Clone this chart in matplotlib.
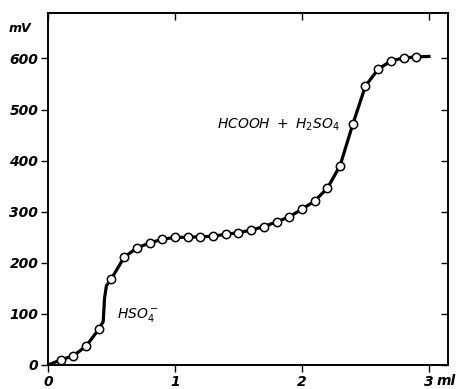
import matplotlib.pyplot as plt

# titration points (ml, mV)
volume_ml = [0.1, 0.2, 0.3, 0.4, 0.5, 0.6, 0.7, 0.8, 0.9, 1.0,
             1.1, 1.2, 1.3, 1.4, 1.5, 1.6, 1.7, 1.8, 1.9, 2.0,
             2.1, 2.2, 2.3, 2.4, 2.5, 2.6, 2.7, 2.8, 2.9]
potential_mv = [10, 18, 37, 70, 169, 211, 229, 239, 246, 250,
                250, 251, 252, 256, 259, 264, 271, 280, 290, 305,
                321, 346, 390, 471, 546, 579, 595, 601, 603]

# drawn curve: same points plus its ends and the steep part near 0.45 ml
curve_ml = [0.0] + volume_ml[:4] + [0.435, 0.445, 0.46] + volume_ml[4:] + [3.0]
curve_mv = [0] + potential_mv[:4] + [85, 130, 155] + potential_mv[4:] + [604]

x_ticks = [0, 1, 2, 3]
y_ticks = [0, 100, 200, 300, 400, 500, 600]

fig = plt.figure(figsize=(4.65, 3.89), dpi=100)
ax = fig.add_axes([0.1032, 0.0617, 0.8602, 0.9049])

ax.plot(curve_ml, curve_mv, color='black', lw=2.3, solid_joinstyle='round', zorder=2)
ax.plot(volume_ml, potential_mv, 'o', ms=6, mfc='white', mec='black', mew=1.1, zorder=3)

ax.set_xlim(0, 3.15)
ax.set_ylim(0, 689)
ax.set_xticks(x_ticks)
ax.set_yticks(y_ticks)
ax.set_xticklabels([str(t) for t in x_ticks], style='italic', fontweight='bold', fontsize=10)
ax.set_yticklabels([str(t) for t in y_ticks], style='italic', fontweight='bold', fontsize=10)
ax.tick_params(axis='both', which='major', direction='out', length=5, width=1, pad=2)
ax.tick_params(top=True, right=True)
for t in ax.xaxis.get_major_ticks():
    t.tick2line.set_marker(3)
for t in ax.yaxis.get_major_ticks():
    t.tick2line.set_marker(0)

for s in ax.spines.values():
    s.set_linewidth(1.4)

ax.text(1.33, 470, r'$HCOOH\ +\ H_2SO_4$', fontsize=10, va='center', ha='left')
ax.text(0.54, 98, r'$HSO_4^-$', fontsize=10, va='center', ha='left')

fig.text(0.043, 0.928, 'mV', style='italic', fontweight='bold', fontsize=9, ha='center', va='center')
fig.text(0.938, 0.02, 'ml', style='italic', fontweight='bold', fontsize=10, ha='left', va='center')

fig.savefig('out.png', dpi=100)
